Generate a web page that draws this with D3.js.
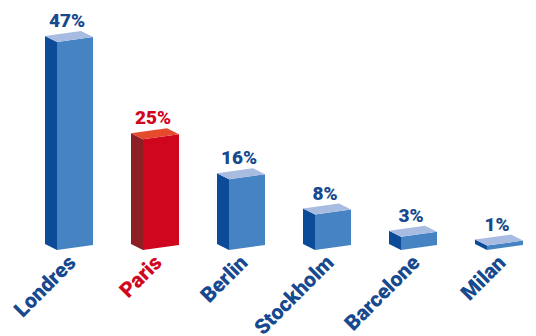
<!DOCTYPE html>
<html>
<head>
<meta charset="utf-8">
<script src="https://cdn.jsdelivr.net/npm/d3@7"></script>
<style>
  html, body { margin: 0; padding: 0; background: #fff; }
  svg { display: block; }
  text { font-family: Roboto, "Open Sans", sans-serif; font-weight: 900; }
</style>
</head>
<body>
<svg id="chart" width="536" height="336"></svg>
<script>
// Share of respondents by city (%)
const cities = ["Londres", "Paris", "Berlin", "Stockholm", "Barcelone", "Milan"];
const shares = [47, 25, 16, 8, 3, 1];
const valueLabels = ["47%", "25%", "16%", "8%", "3%", "1%"];
const highlighted = ["Paris"];

const svg = d3.select("#chart");

// Box geometry: front face width, depth offset (to the left and up), front tilt
const frontW = 36, depthX = 12, depthY = 6, tilt = 5;
const baseY = 250;

const x = d3.scalePoint().domain(cities).range([57, 487]);
const y = d3.scaleLinear().domain([0, d3.max(shares)]).range([baseY, 42]);

const palette = {
  blue: { front: "#4583c3", side: "#0b4b98", top: "#a8bbe1", text: "#17498f" },
  red:  { front: "#d0061f", side: "#8b1f23", top: "#e64a2d", text: "#d1061f" }
};

const rows = cities.map((c, i) => ({
  city: c, value: shares[i], label: valueLabels[i],
  col: highlighted.includes(c) ? palette.red : palette.blue
}));

const g = svg.append("g");
const bars = g.selectAll("g.bar").data(rows).join("g").attr("class", "bar");

function pts(arr) { return arr.map(p => p.join(",")).join(" "); }

bars.each(function(d) {
  const x0 = x(d.city);
  const h = baseY - y(d.value);
  const flb = [x0, baseY], frb = [x0 + frontW, baseY - tilt];
  const flt = [x0, baseY - h], frt = [x0 + frontW, baseY - tilt - h];
  const blt = [x0 - depthX, baseY - h - depthY], brt = [x0 + frontW - depthX, baseY - tilt - h - depthY];
  const blb = [x0 - depthX, baseY - depthY];
  const sel = d3.select(this);
  sel.append("polygon").attr("points", pts([blb, flb, flt, blt])).attr("fill", d.col.side);
  sel.append("polygon").attr("points", pts([flb, frb, frt, flt])).attr("fill", d.col.front);
  sel.append("polygon").attr("points", pts([blt, flt, frt, brt])).attr("fill", d.col.top);
});

// Value labels above each box
bars.append("text")
  .attr("x", d => x(d.city) + 10)
  .attr("y", d => y(d.value) - tilt - depthY - 4)
  .attr("text-anchor", "middle")
  .attr("font-size", 19)
  .attr("fill", d => d.col.text)
  .text(d => d.label);

// Rotated city names under each box
bars.append("text")
  .attr("transform", d => `translate(${x(d.city) + 20},264) rotate(-45)`)
  .attr("text-anchor", "end")
  .attr("font-size", 21)
  .attr("fill", d => d.col.text)
  .text(d => d.city);
</script>
</body>
</html>
